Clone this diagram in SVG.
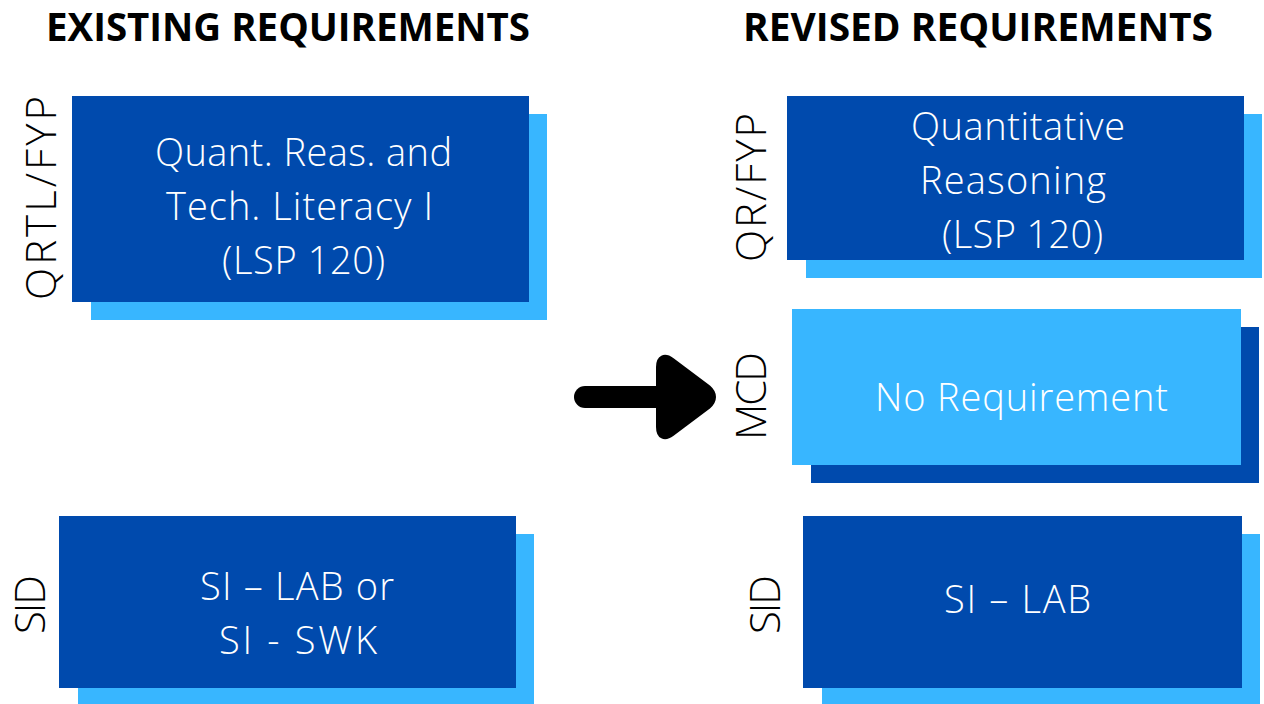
<svg xmlns="http://www.w3.org/2000/svg" width="1264" height="704" viewBox="0 0 1264 704">
<style>
.title{font-family:"Open Sans","Liberation Sans",sans-serif;font-weight:700;font-size:39px;fill:#000;text-anchor:middle}
.side{font-family:"Open Sans","Liberation Sans",sans-serif;font-weight:300;font-size:42px;fill:#000;text-anchor:middle;dominant-baseline:central}
.bt{font-family:"Open Sans","Liberation Sans",sans-serif;font-weight:300;font-size:38px;fill:#fff;text-anchor:middle;dominant-baseline:central}
.dark{fill:#004AAD}
.light{fill:#38B6FF}
</style>
<rect width="1264" height="704" fill="#fff"/>
<text class="title" x="288" y="41" textLength="484" lengthAdjust="spacingAndGlyphs">EXISTING REQUIREMENTS</text>
<text class="title" x="978" y="41" textLength="470" lengthAdjust="spacingAndGlyphs">REVISED REQUIREMENTS</text>

<g id="qrtl">
<rect class="light" x="91" y="114" width="456" height="206"/>
<rect class="dark" x="72" y="96" width="457" height="206"/>
<text class="bt" x="303.5" y="151" textLength="297">Quant. Reas. and</text>
<text class="bt" x="299.5" y="205" textLength="267">Tech. Literacy I</text>
<text class="bt" x="303.5" y="259" textLength="163">(LSP 120)</text>
<text class="side" transform="translate(39,198) rotate(-90)" textLength="204">QRTL/FYP</text>
</g>

<g id="sid-left">
<rect class="light" x="78" y="534" width="456" height="170"/>
<rect class="dark" x="59" y="516" width="457" height="172"/>
<text class="bt" x="297" y="585" textLength="194">SI – LAB or</text>
<text class="bt" x="298" y="639" textLength="158">SI - SWK</text>
<text class="side" transform="translate(28,604.5) rotate(-90)" textLength="59">SID</text>
</g>

<g id="qr">
<rect class="light" x="806" y="114" width="456" height="164"/>
<rect class="dark" x="787" y="96" width="457" height="164"/>
<text class="bt" x="1018" y="125" textLength="214">Quantitative</text>
<text class="bt" x="1013" y="179" textLength="186">Reasoning</text>
<text class="bt" x="1022.5" y="233" textLength="161">(LSP 120)</text>
<text class="side" transform="translate(749,187.5) rotate(-90)" textLength="149">QR/FYP</text>
</g>

<g id="mcd">
<rect class="dark" x="811" y="327" width="448" height="156"/>
<rect class="light" x="792" y="309" width="449" height="156"/>
<text class="bt" x="1021.5" y="396" textLength="293">No Requirement</text>
<text class="side" transform="translate(749,396) rotate(-90)" textLength="88">MCD</text>
</g>

<g id="sid-right">
<rect class="light" x="822" y="534" width="438" height="170"/>
<rect class="dark" x="803" y="516" width="439" height="172"/>
<text class="bt" x="1017.5" y="598" textLength="147">SI – LAB</text>
<text class="side" transform="translate(763,604.5) rotate(-90)" textLength="59">SID</text>
</g>

<g id="connectors">
<line x1="585" y1="397" x2="670" y2="397" stroke="#000" stroke-width="22" stroke-linecap="round"/>
<path d="M662,367 Q662,357 670,363 L706,390 Q714,397 706,404 L670,431 Q662,437 662,427 Z" fill="#000" stroke="#000" stroke-width="12" stroke-linejoin="round"/>
</g>
</svg>
